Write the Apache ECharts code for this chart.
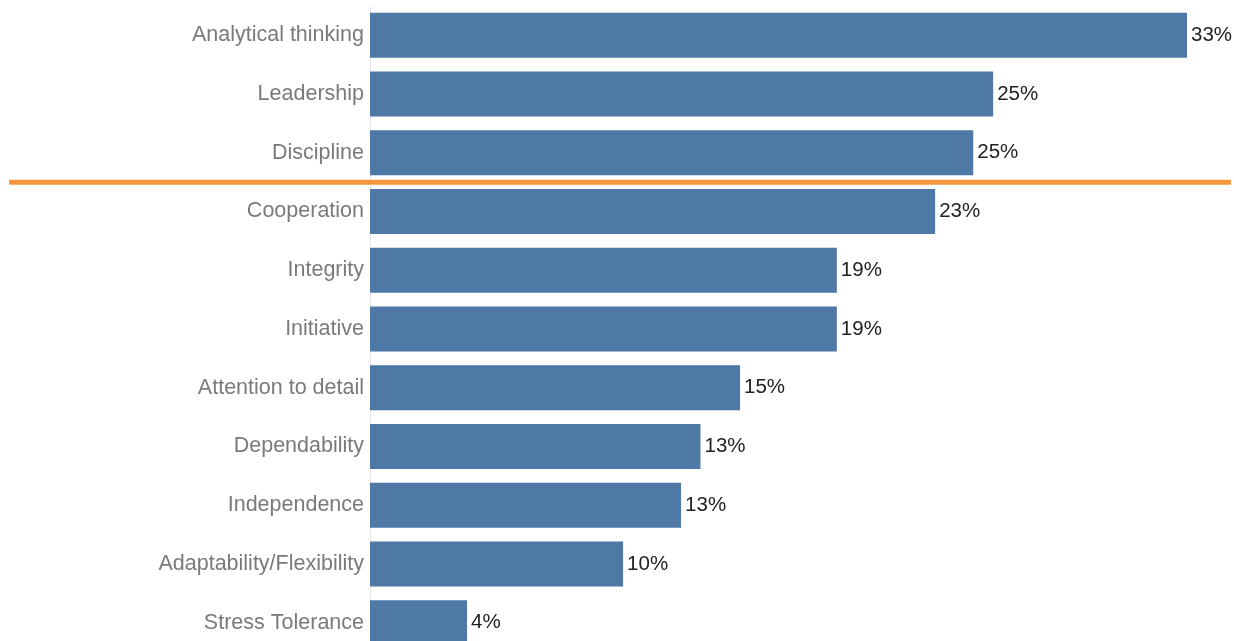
<!DOCTYPE html>
<html>
<head>
<meta charset="utf-8">
<title>Skills</title>
<script src="https://cdn.jsdelivr.net/npm/echarts@6/dist/echarts.min.js"></script>
<style>
  html, body { margin: 0; padding: 0; background: #fff; overflow: hidden; }
  /* the chart runs a little past the bottom of the window */
  #chart { width: 1234px; height: 652px; }
</style>
</head>
<body>
<div id="chart"></div>
<script>
// Share of respondents naming each skill (percent), top to bottom
const skills = [
  'Analytical thinking', 'Leadership', 'Discipline', 'Cooperation', 'Integrity',
  'Initiative', 'Attention to detail', 'Dependability', 'Independence',
  'Adaptability/Flexibility', 'Stress Tolerance'
];
const shares = [33.25, 25.36, 24.55, 23.0, 19.0, 19.0, 15.06, 13.45, 12.66, 10.3, 3.95];

// The divider sits between these two skills
const dividerAbove = 'Discipline';
const dividerBelow = 'Cooperation';

const chart = echarts.init(document.getElementById('chart'), null, { renderer: 'canvas' });

chart.setOption({
  animation: false,
  backgroundColor: '#ffffff',
  grid: { left: 370, right: 4, top: 6, bottom: 0, containLabel: false },
  xAxis: {
    type: 'value',
    min: 0,
    max: 35,
    show: false
  },
  yAxis: {
    type: 'category',
    inverse: true,
    data: skills,
    axisLine: { show: true, lineStyle: { color: '#e8e8e8', width: 1 } },
    axisTick: { show: false },
    axisLabel: {
      color: '#7a7a7a',
      fontFamily: 'Liberation Sans, Arial, sans-serif',
      fontSize: 21.5,
      margin: 6,
      padding: [4, 0, 0, 0]
    }
  },
  series: [{
    type: 'bar',
    data: shares,
    barWidth: 45,
    itemStyle: { color: '#4e79a7' },
    label: {
      show: true,
      position: 'right',
      distance: 4,
      color: '#222222',
      fontFamily: 'Liberation Sans, Arial, sans-serif',
      fontSize: 20.5,
      padding: [4, 0, 0, 0],
      formatter: p => Math.round(p.value) + '%'
    }
  }]
});

// Orange divider drawn halfway between the two category bands
const yA = chart.convertToPixel({ yAxisIndex: 0 }, dividerAbove);
const yB = chart.convertToPixel({ yAxisIndex: 0 }, dividerBelow);
const yMid = (yA + yB) / 2;
chart.setOption({
  graphic: [{
    type: 'line',
    z: 100,
    shape: { x1: 9, y1: yMid, x2: 1231, y2: yMid },
    style: { stroke: '#f5963f', lineWidth: 5 }
  }]
});
</script>
</body>
</html>
